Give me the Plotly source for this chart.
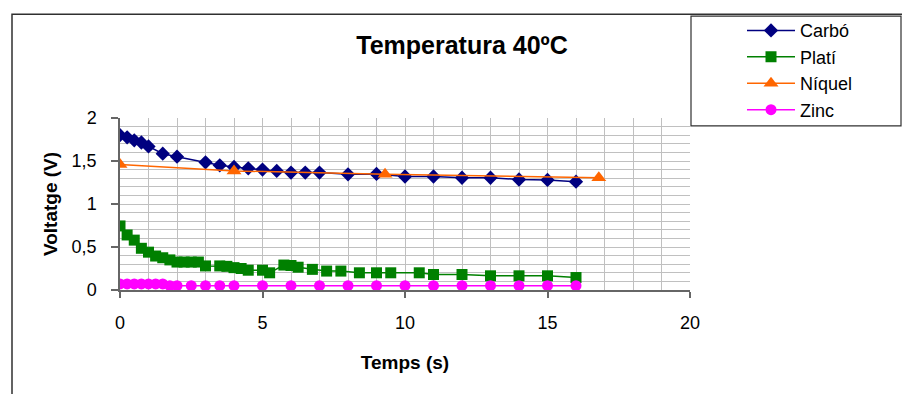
import plotly.graph_objects as go

# ---- data ----
carbo_t = [0, 0.25, 0.5, 0.75, 1, 1.5, 2, 3, 3.5, 4, 4.5, 5, 5.5, 6, 6.5, 7, 8, 9, 10, 11, 12, 13, 14, 15, 16]
carbo_v = [1.80, 1.775, 1.74, 1.715, 1.67, 1.585, 1.55, 1.485, 1.45, 1.43, 1.415, 1.40, 1.385, 1.365,
           1.365, 1.365, 1.345, 1.35, 1.32, 1.32, 1.305, 1.305, 1.285, 1.28, 1.26]

plati_t = [0, 0.25, 0.5, 0.75, 1, 1.25, 1.5, 1.75, 2, 2.25, 2.5, 2.75, 3, 3.5, 3.75, 4, 4.25, 4.5,
           5, 5.25, 5.75, 6, 6.25, 6.75, 7.25, 7.75, 8.4, 9, 9.5, 10.5, 11, 12, 13, 14, 15, 16]
plati_v = [0.745, 0.64, 0.58, 0.485, 0.44, 0.395, 0.375, 0.35, 0.325, 0.325, 0.325, 0.325, 0.28, 0.28,
           0.275, 0.26, 0.25, 0.23, 0.23, 0.2, 0.29, 0.285, 0.265, 0.24, 0.22, 0.22, 0.2, 0.2, 0.2,
           0.2, 0.18, 0.18, 0.165, 0.165, 0.165, 0.145]

niquel_t = [0, 4, 9.3, 16.8]
niquel_v = [1.46, 1.385, 1.345, 1.305]

zinc_t = [0, 0.25, 0.5, 0.75, 1, 1.25, 1.5, 1.75, 2, 2.5, 3, 3.5, 4, 5, 6, 7, 8, 9, 10, 11, 12, 13, 14, 15, 16]
zinc_v = [0.07, 0.07, 0.07, 0.07, 0.07, 0.07, 0.07, 0.05, 0.05, 0.05, 0.05, 0.05, 0.05, 0.05, 0.05,
          0.05, 0.05, 0.05, 0.05, 0.05, 0.05, 0.05, 0.05, 0.05, 0.05]

x_ticks = [0, 5, 10, 15, 20]
y_ticks = [0, 0.5, 1, 1.5, 2]

FONT = "Arial, 'Liberation Sans', sans-serif"

# ---- layout geometry (px) ----
W, H = 902, 394
L, R, T, B = 120, 212, 116, 104
PW, PH = W - L - R, H - T - B


def px(x):
    return (x - L) / PW


def py(y):
    return (H - B - y) / PH


fig = go.Figure()

series = [
    ("Carbó", carbo_t, carbo_v, "#000080", "diamond", 11),
    ("Platí", plati_t, plati_v, "#008000", "square", 11),
    ("Níquel", niquel_t, niquel_v, "#FF6600", "triangle-up", 13),
    ("Zinc", zinc_t, zinc_v, "#FF00FF", "circle", 11),
]
for name, t, v, col, sym, size in series:
    fig.add_trace(go.Scatter(
        x=t, y=v, name=name, mode="lines+markers",
        line=dict(color=col, width=1.5),
        marker=dict(color=col, symbol=sym, size=size, line=dict(width=0)),
        legendgroup=name,
    ))

grid = "#c0c0c0"
fig.update_layout(
    width=W, height=H,
    margin=dict(l=L, r=R, t=T, b=B, pad=0),
    paper_bgcolor="white", plot_bgcolor="white",
    separators=",.",
    font=dict(family=FONT, size=18, color="black"),
    title=dict(text="Temperatura 40ºC", x=px(462), xref="paper", xanchor="center",
               y=1 - 45 / H, yref="container", yanchor="middle",
               font=dict(size=25, weight="bold", family=FONT)),
    showlegend=True,
    legend=dict(x=px(742), y=py(9), xanchor="left", yanchor="top",
                bgcolor="rgba(0,0,0,0)", borderwidth=0,
                font=dict(size=18, family=FONT), itemwidth=48,
                tracegroupgap=0),
    xaxis=dict(range=[0, 20], tickvals=x_ticks, showgrid=True, gridcolor=grid, gridwidth=1,
               minor=dict(dtick=1, showgrid=True, gridcolor=grid, gridwidth=1),
               showline=True, linecolor="#666666", linewidth=1.5,
               ticks="outside", ticklen=6, tickcolor="#666666", tickwidth=1.5,
               ticklabelstandoff=10, zeroline=False,
               title=dict(text="Temps (s)", font=dict(size=19, weight="bold"), standoff=23)),
    yaxis=dict(range=[0, 2], tickvals=y_ticks, showgrid=True, gridcolor=grid, gridwidth=1,
               minor=dict(dtick=0.1, showgrid=True, gridcolor=grid, gridwidth=1),
               showline=True, linecolor="#666666", linewidth=1.5,
               ticks="outside", ticklen=7, tickcolor="#666666", tickwidth=1.5,
               ticklabelstandoff=11, zeroline=False,
               title=dict(text="Voltatge (V)", font=dict(size=19, weight="bold"), standoff=9)),
    shapes=[
        # outer chart border (only left and top visible)
        dict(type="rect", xref="paper", yref="paper",
             x0=px(12), x1=px(906), y0=py(400), y1=py(11),
             line=dict(color="#303030", width=1.5), layer="below"),
        # legend box
        dict(type="rect", xref="paper", yref="paper",
             x0=px(691), x1=px(901), y0=py(124), y1=py(13),
             line=dict(color="#303030", width=1.2), layer="below"),
    ],
)

fig.write_html("out.html")
